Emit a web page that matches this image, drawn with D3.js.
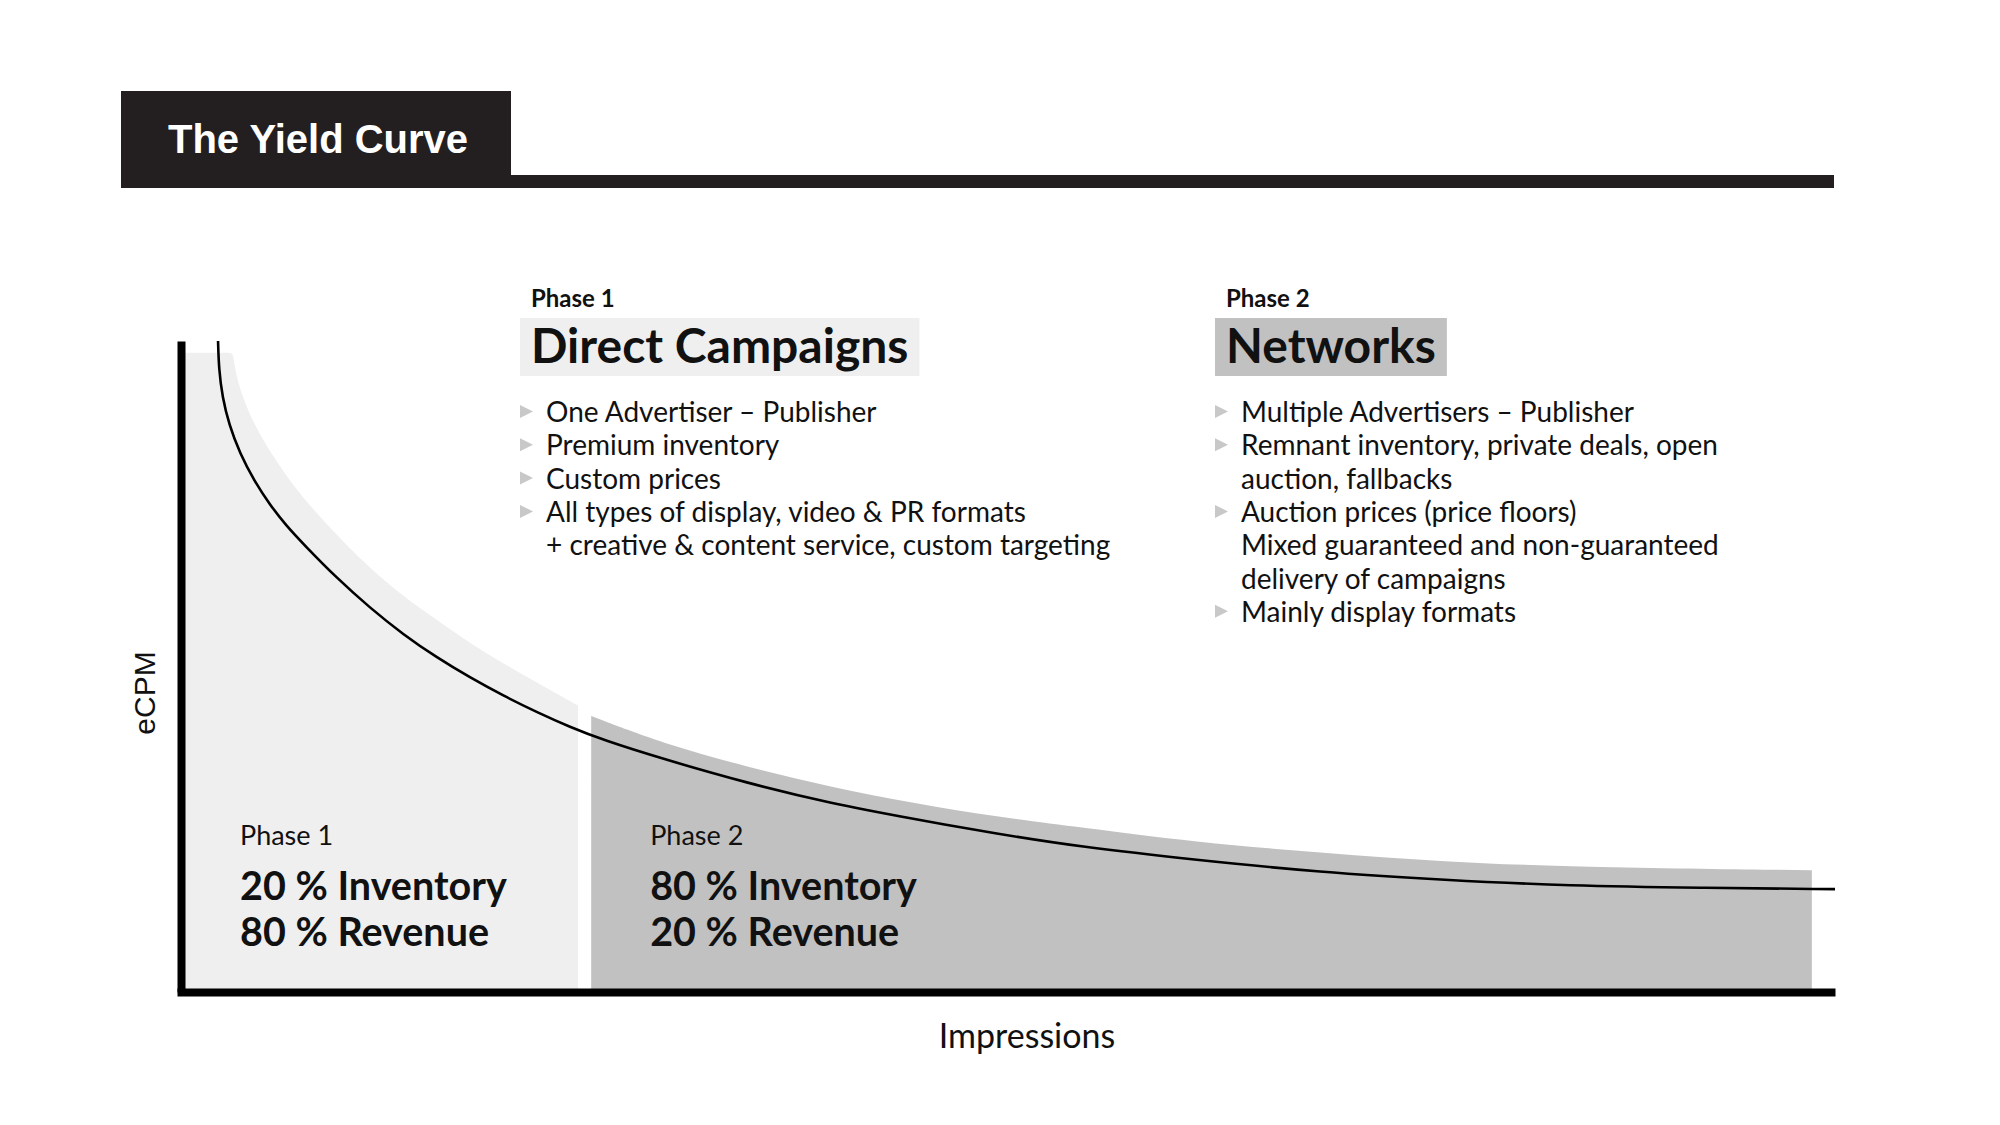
<!DOCTYPE html>
<html>
<head>
<meta charset="utf-8">
<script src="https://cdn.jsdelivr.net/npm/d3@7"></script>
<style>
  body { margin: 0; background: #fff; }
  text { font-family: Lato, "Open Sans", sans-serif; fill: #111; }
</style>
</head>
<body>
<script>
// yield curve (impressions 0-100, eCPM 0-100)
var curveX = [2.24, 2.29, 2.50, 2.91, 3.55, 4.43, 5.39, 6.34, 7.44, 9.41, 11.43, 13.44, 15.45, 17.47, 19.49, 21.50, 23.52, 25.53, 29.14, 34.22, 39.24, 44.26, 49.33, 54.35, 61.31, 68.86, 76.42, 83.98, 91.84, 100];
var curveY = [100, 95.7, 91.4, 87.1, 82.8, 78.5, 74.8, 71.7, 68.7, 63.6, 59.0, 54.9, 51.4, 48.3, 45.5, 43.0, 40.7, 38.7, 35.8, 32.1, 29.0, 26.6, 24.3, 22.3, 20.3, 18.4, 17.2, 16.3, 16.0, 15.8];

// shaded areas for the two phases
var phase1X = [0, 3.0, 3.14, 3.30, 3.64, 4.12, 4.72, 5.44, 6.34, 7.38, 9.43, 11.43, 13.42, 15.48, 17.47, 19.47, 21.52, 24.0];
var phase1Y = [98.2, 98.2, 98.2, 95.1, 92.0, 88.9, 85.9, 82.8, 79.4, 75.9, 70.1, 65.1, 60.8, 57.1, 53.6, 50.5, 47.5, 44.0];
var phase2X = [24.8, 29.1, 34.2, 39.2, 44.3, 49.3, 54.4, 61.3, 68.9, 76.4, 84.0, 98.6];
var phase2Y = [42.4, 38.2, 34.6, 31.5, 29.0, 26.9, 25.3, 23.0, 21.4, 20.0, 19.2, 18.7];

var phaseNames = ["Phase 1", "Phase 2"];
var phaseTitles = ["Direct Campaigns", "Networks"];
var inventoryShare = [20, 80];
var revenueShare = [80, 20];

// [text, has bullet]
var phase1Bullets = [
    ["One Advertiser \u2013 Publisher", true],
    ["Premium inventory", true],
    ["Custom prices", true],
    ["All types of display, video & PR formats", true],
    ["+ creative & content service, custom targeting", false]
];
var phase2Bullets = [
    ["Multiple Advertisers \u2013 Publisher", true],
    ["Remnant inventory, private deals, open", true],
    ["auction, fallbacks", false],
    ["Auction prices (price floors)", true],
    ["Mixed guaranteed and non-guaranteed", false],
    ["delivery of campaigns", false],
    ["Mainly display formats", true]
];

var width = 2000,
    height = 1125;

var svg = d3.select("body")
    .append("svg")
    .attr("width", width)
    .attr("height", height);

var x = d3.scaleLinear().domain([0, 100]).range([181, 1835]);
var y = d3.scaleLinear().domain([0, 100]).range([992, 341]);

//title block
svg.append("rect")
    .attr("x", 121).attr("y", 91)
    .attr("width", 390).attr("height", 97)
    .attr("fill", "#231f20");
svg.append("rect")
    .attr("x", 511).attr("y", 175)
    .attr("width", 1323).attr("height", 13)
    .attr("fill", "#231f20");
svg.append("text")
    .attr("x", 168).attr("y", 153)
    .style("font-family", "'Liberation Sans', Arial, sans-serif")
    .style("font-weight", "bold")
    .style("font-size", "40px")
    .style("fill", "#fff")
    .text("The Yield Curve");

//areas
var area = d3.area()
    .x(function(d){ return x(d[0]); })
    .y0(y(0))
    .y1(function(d){ return y(d[1]); })
    .curve(d3.curveBasis);

svg.append("path")
    .datum(d3.zip(phase1X, phase1Y))
    .attr("fill", "#efefef")
    .attr("d", area);

svg.append("path")
    .datum(d3.zip(phase2X, phase2Y))
    .attr("fill", "#c1c1c1")
    .attr("d", area);

//the curve
var line = d3.line()
    .x(function(d){ return x(d[0]); })
    .y(function(d){ return y(d[1]); })
    .curve(d3.curveBasis);

svg.append("path")
    .datum(d3.zip(curveX, curveY))
    .attr("fill", "none")
    .attr("stroke", "#000")
    .attr("stroke-width", 2.6)
    .attr("d", line);

//axes, no ticks (x axis line reaches under the y axis corner)
var yAxis = svg.append("g")
    .attr("transform", "translate(" + x(0) + ",0)")
    .call(d3.axisLeft(y).ticks(0).tickSizeOuter(0));
var xAxis = svg.append("g")
    .attr("transform", "translate(0," + y(0) + ")")
    .call(d3.axisBottom(x.copy().range([x(0) - 4, x(100)])).ticks(0).tickSizeOuter(0));
svg.selectAll(".domain")
    .attr("stroke", "#000")
    .attr("stroke-width", 8);

svg.append("text")
    .attr("transform", "translate(155,693) rotate(-90)")
    .attr("text-anchor", "middle")
    .style("font-family", "'Liberation Sans', Arial, sans-serif")
    .style("font-size", "30px")
    .text("eCPM");

svg.append("text")
    .attr("x", 1027).attr("y", 1048)
    .attr("text-anchor", "middle")
    .style("font-size", "34px")
    .text("Impressions");

//phase descriptions
var blockX = [531, 1226];
var bulletLists = [phase1Bullets, phase2Bullets];
var boxColors = ["#efefef", "#c1c1c1"];

blockX.forEach(function(bx, i){
    var g = svg.append("g");

    g.append("text")
        .attr("x", bx).attr("y", 307)
        .style("font-weight", "bold")
        .style("font-size", "24px")
        .text(phaseNames[i]);

    var box = g.append("rect")
        .attr("x", bx - 11).attr("y", 318)
        .attr("height", 58)
        .attr("fill", boxColors[i]);

    var title = g.append("text")
        .attr("x", bx).attr("y", 363)
        .style("font-weight", "bold")
        .style("font-size", "48px")
        .text(phaseTitles[i]);

    box.attr("width", title.node().getComputedTextLength() + 22);

    var rows = g.selectAll(".row")
        .data(bulletLists[i])
        .enter()
        .append("g")
        .attr("class", "row")
        .attr("transform", function(d, j){ return "translate(" + bx + "," + (422 + j * 33.3) + ")"; });

    rows.filter(function(d){ return d[1]; })
        .append("path")
        .attr("d", "M-11,-17L2,-10.5L-11,-4Z")
        .attr("fill", "#c8c8c8");

    rows.append("text")
        .attr("x", 15)
        .style("font-size", "28px")
        .text(function(d){ return d[0]; });
});

//share labels inside the areas
var labelX = [x(0) + 59, x(phase2X[0]) + 59];
labelX.forEach(function(lx, i){
    svg.append("text")
        .attr("x", lx).attr("y", 845)
        .style("font-size", "27px")
        .text(phaseNames[i]);
    svg.append("text")
        .attr("x", lx).attr("y", 900)
        .style("font-weight", "bold")
        .style("font-size", "39.5px")
        .text(inventoryShare[i] + " % Inventory");
    svg.append("text")
        .attr("x", lx).attr("y", 946)
        .style("font-weight", "bold")
        .style("font-size", "39.5px")
        .text(revenueShare[i] + " % Revenue");
});
</script>
</body>
</html>
